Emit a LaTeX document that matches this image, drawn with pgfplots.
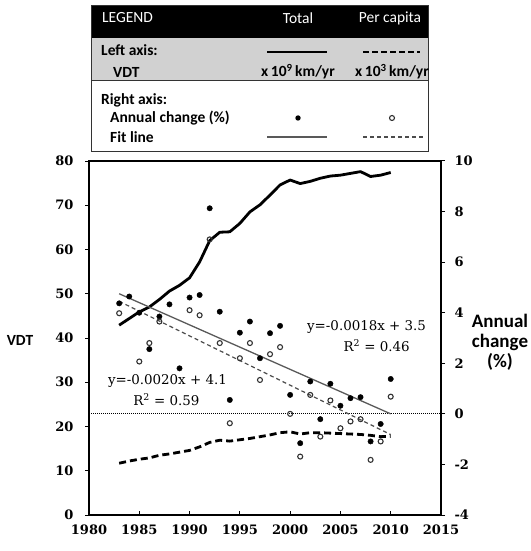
\documentclass[border=0pt]{standalone}
\usepackage{fontspec}
\setmainfont{Carlito}
\newfontfamily\numfont{DejaVu Serif}
\usepackage{pgfplots}
\pgfplotsset{compat=1.18}

\begin{document}
\begin{tikzpicture}[x=1pt,y=1pt]
% left axis: VDT
\begin{axis}[
    at={(89pt,36pt)}, anchor=south west,
    scale only axis, width=352pt, height=354pt,
    xmin=1980, xmax=2015, ymin=0, ymax=80,
    xtick={1980,1985,...,2015}, ytick={0,10,...,80},
    xtick pos=bottom, ytick pos=left,
    major tick length=4pt,
    xtick align=inside, ytick align=outside,
    /pgf/number format/1000 sep={},
    /pgf/number format/assume math mode=true,
    ticklabel style={font=\numfont\bfseries\fontsize{13}{15}\selectfont},
    yticklabel style={xshift=-8pt},
    xticklabel style={yshift=-6pt},
    axis line style={line width=1.4pt},
    tick style={line width=1pt, black},
    clip=false,
]
\addplot[line width=2.8pt, black, line join=round] coordinates {
(1983,42.9)(1984,44.4)(1985,45.9)(1986,47.0)(1987,48.7)(1988,50.6)(1989,51.9)
(1990,53.6)(1991,57.2)(1992,62.0)(1993,63.9)(1994,64.0)(1995,65.9)(1996,68.5)
(1997,70.1)(1998,72.3)(1999,74.6)(2000,75.7)(2001,74.9)(2002,75.4)(2003,76.1)
(2004,76.6)(2005,76.8)(2006,77.2)(2007,77.6)(2008,76.5)(2009,76.8)(2010,77.4)};
\addplot[line width=2.8pt, black, dash pattern=on 7pt off 4pt] coordinates {
(1983,11.7)(1984,12.2)(1985,12.6)(1986,12.9)(1987,13.5)(1988,13.8)(1989,14.2)
(1990,14.6)(1991,15.4)(1992,16.4)(1993,16.9)(1994,16.7)(1995,17.0)(1996,17.3)
(1997,17.7)(1998,18.1)(1999,18.6)(2000,18.8)(2001,18.3)(2002,18.6)(2003,18.6)
(2004,18.5)(2005,18.4)(2006,18.3)(2007,18.2)(2008,18.0)(2009,17.7)(2010,17.8)};
\node[font=\bfseries\fontsize{15.5}{18}\selectfont] at (rel axis cs:0,0.494) [xshift=-69pt] {VDT};
\end{axis}
% right axis: annual change
\begin{axis}[
    at={(89pt,36pt)}, anchor=south west,
    scale only axis, width=352pt, height=354pt,
    xmin=1980, xmax=2015, ymin=-4, ymax=10,
    axis x line=none, axis y line*=right,
    ytick={-4,-2,...,10},
    ytick align=outside,
    major tick length=4pt,
    /pgf/number format/assume math mode=true,
    ticklabel style={font=\numfont\bfseries\fontsize{13}{15}\selectfont},
    yticklabel style={xshift=6pt},
    axis line style={line width=1.4pt},
    tick style={line width=1pt, black},
    clip=false,
]
\addplot[black, line width=0.9pt, dash pattern=on 1pt off 1pt] coordinates {(1980,0)(2015,0)};
\addplot[black!65, line width=1.3pt] coordinates {(1983,4.75)(2010,0.0)};
\addplot[black!70, line width=1.2pt, dash pattern=on 4pt off 3pt] coordinates {(1983,4.45)(2010,-0.82)};
\addplot[only marks, mark=*, mark size=2.7pt, black] coordinates {
(1983,4.37)(1984,4.64)(1985,4.00)(1986,2.56)(1987,3.85)(1988,4.33)(1989,1.80)
(1990,4.60)(1991,4.70)(1992,8.13)(1993,4.04)(1994,0.55)(1995,3.21)(1996,3.65)
(1997,2.20)(1998,3.19)(1999,3.48)(2000,0.75)(2001,-1.16)(2002,1.28)(2003,-0.21)
(2004,1.19)(2005,0.32)(2006,0.62)(2007,0.66)(2008,-1.09)(2009,-0.40)(2010,1.38)};
\addplot[only marks, mark=o, mark size=2.5pt, black!80, line width=1.1pt] coordinates {
(1983,3.98)(1985,2.07)(1986,2.80)(1987,3.65)(1990,4.10)(1991,3.90)(1992,6.90)
(1993,2.80)(1994,-0.37)(1995,2.20)(1996,2.80)(1997,1.34)(1998,2.36)(1999,2.64)
(2000,0.00)(2001,-1.69)(2002,0.75)(2003,-0.90)(2004,0.53)(2005,-0.57)(2006,-0.30)
(2007,-0.21)(2008,-1.82)(2009,-1.09)(2010,0.68)};
\node[font=\numfont\fontsize{13.4}{16}\selectfont] at (axis cs:2007.6,3.44) {y=-0.0018x + 3.5};
\node[font=\numfont\fontsize{13.4}{16}\selectfont] at (axis cs:2008.6,2.69) {R\textsuperscript{2} = 0.46};
\node[font=\numfont\fontsize{13.4}{16}\selectfont] at (axis cs:1987.8,1.28) {y=-0.0020x + 4.1};
\node[font=\numfont\fontsize{13.4}{16}\selectfont] at (axis cs:1987.7,0.55) {R\textsuperscript{2} = 0.59};
\node[font=\bfseries\fontsize{19}{20}\selectfont, align=center] at (rel axis cs:1,0.489) [xshift=59pt] {Annual\\change\\(\%)};
\end{axis}
% legend table
\fill[black] (91,546) rectangle (428,513);
\fill[black!18] (91,513) rectangle (428,471);
\draw[black!80, line width=0.8pt] (91,546) rectangle (428,400);
\draw[black!80, line width=0.8pt] (91,471) -- (428,471);
\begin{scope}[every node/.style={font=\fontsize{15.5}{18}\selectfont, inner sep=0pt}]
\node[white, anchor=west] at (102,533) {LEGEND};
\node[white] at (298,533) {Total};
\node[white] at (390,533) {Per capita};
\node[anchor=west, font=\bfseries\fontsize{15.5}{18}\selectfont] at (101,501) {Left axis:};
\node[anchor=west, font=\bfseries\fontsize{15.5}{18}\selectfont] at (113,479) {VDT};
\node[font=\bfseries\fontsize{15.5}{18}\selectfont] at (298,479) {x\,10\textsuperscript{9}\,km/yr};
\node[font=\bfseries\fontsize{15.5}{18}\selectfont] at (392,479) {x\,10\textsuperscript{3}\,km/yr};
\node[anchor=west, font=\bfseries\fontsize{15.5}{18}\selectfont] at (101,451) {Right axis:};
\node[anchor=west, font=\bfseries\fontsize{15.5}{18}\selectfont] at (110,433) {Annual change (\%)};
\node[anchor=west, font=\bfseries\fontsize{15.5}{18}\selectfont] at (110,414) {Fit line};
\end{scope}
\draw[black, line width=2.2pt] (267,499) -- (327,499);
\draw[black, line width=2.2pt, dash pattern=on 6pt off 3pt] (363,499) -- (420,499);
\fill[black] (298,433) circle (2.7pt);
\draw[black!80, line width=1.1pt] (392,433) circle (2.5pt);
\draw[black!65, line width=1.3pt] (267,414) -- (327,414);
\draw[black!70, line width=1.2pt, dash pattern=on 4pt off 3pt] (363,414) -- (423,414);
\pgfresetboundingbox
\path[use as bounding box] (0,0) rectangle (530,551);
\end{tikzpicture}
\end{document}
